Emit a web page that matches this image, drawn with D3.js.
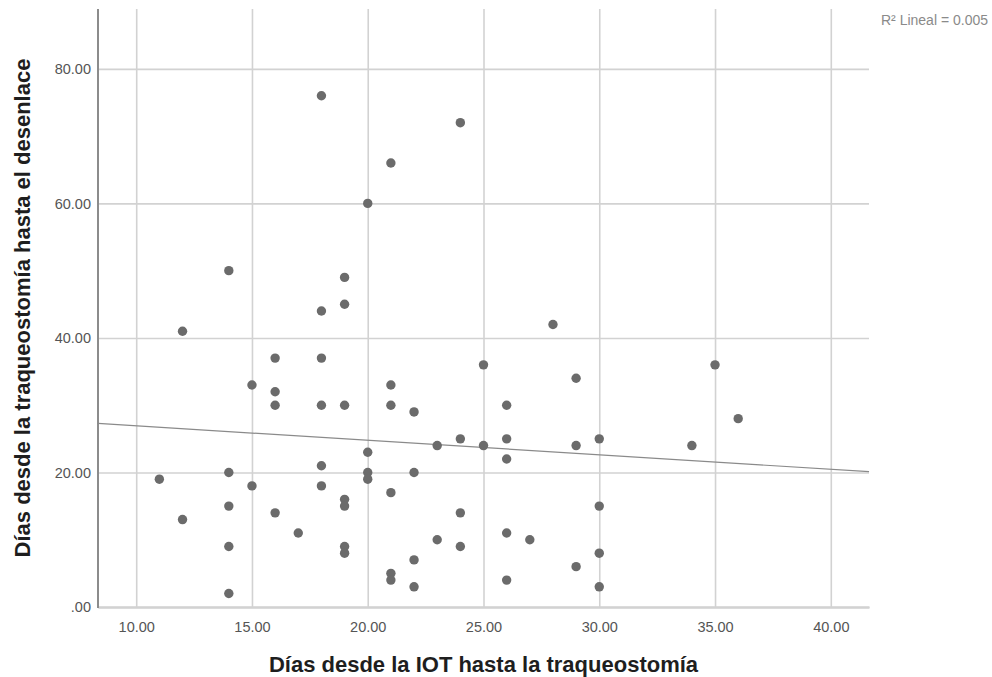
<!DOCTYPE html>
<html>
<head>
<meta charset="utf-8">
<script src="https://cdn.jsdelivr.net/npm/d3@7"></script>
<style>
  body { margin: 0; background: #fff; }
  svg { font-family: "Liberation Sans", Arial, sans-serif; }
</style>
</head>
<body>
<svg class="chart" width="992" height="677"></svg>
<script>
// days from IOT to tracheostomy (x) and tracheostomy to outcome (y)
var diasIOT = [11, 12, 12, 14, 14, 14, 14, 14, 15, 15, 16, 16, 16, 16, 17,
    18, 18, 18, 18, 18, 18, 19, 19, 19, 19, 19, 19, 19, 20, 20, 20, 20,
    21, 21, 21, 21, 21, 21, 22, 22, 22, 22, 23, 23, 24, 24, 24, 24, 25, 25,
    26, 26, 26, 26, 26, 27, 28, 29, 29, 29, 30, 30, 30, 30, 34, 35, 36];
var diasDesenlace = [19, 41, 13, 50, 20, 15, 9, 2, 33, 18, 37, 32, 30, 14, 11,
    76, 44, 37, 30, 21, 18, 49, 45, 30, 16, 15, 9, 8, 60, 23, 20, 19,
    66, 33, 30, 17, 5, 4, 29, 20, 7, 3, 24, 10, 72, 25, 14, 9, 36, 24,
    30, 25, 22, 11, 4, 10, 42, 34, 24, 6, 25, 15, 8, 3, 24, 36, 28];
var xTicks = [10, 15, 20, 25, 30, 35, 40];
var yTicks = [0, 20, 40, 60, 80];

function drawChart() {
    var svg = d3.select(".chart"),
        pLeft = 98, pRight = 869, pTop = 9, pBottom = 607;

    var x = d3.scaleLinear().domain([8.35, 41.65]).range([pLeft, pRight]);
    var y = d3.scaleLinear().domain([0, 88.9]).range([pBottom, pTop]);

    var fmt = function (d) { return d === 0 ? ".00" : d3.format(".2f")(d); };

    // grid + ticks
    svg.append("g")
        .attr("transform", "translate(0," + pBottom + ")")
        .call(d3.axisBottom(x).tickValues(xTicks).tickSizeInner(-(pBottom - pTop))
            .tickSizeOuter(0).tickFormat(fmt))
        .call(g => g.select(".domain").attr("stroke", "#bdbdbd").attr("stroke-width", 2))
        .call(g => g.selectAll(".tick line").attr("stroke", "#d2d2d2").attr("stroke-width", 1.6))
        .call(g => g.selectAll(".tick text").attr("dy", "1.55em").attr("fill", "#555")
            .style("font-size", "14.5px"));

    svg.append("g")
        .attr("transform", "translate(" + pLeft + ",0)")
        .call(d3.axisLeft(y).tickValues(yTicks).tickSize(-(pRight - pLeft)).tickFormat(fmt))
        .call(g => g.select(".domain").remove())
        .call(g => g.selectAll(".tick line").attr("stroke", "#d2d2d2").attr("stroke-width", 1.6))
        .call(g => g.selectAll(".tick text").attr("x", -7).attr("fill", "#555")
            .style("font-size", "14.5px"));

    // left axis line
    svg.append("line")
        .attr("x1", pLeft).attr("x2", pLeft)
        .attr("y1", pTop).attr("y2", pBottom + 1)
        .attr("stroke", "#8c8c8c").attr("stroke-width", 2);

    // least squares fit
    var mx = d3.mean(diasIOT), my = d3.mean(diasDesenlace);
    var sxy = d3.sum(diasIOT, (d, i) => (d - mx) * (diasDesenlace[i] - my));
    var sxx = d3.sum(diasIOT, d => (d - mx) * (d - mx));
    var slope = sxy / sxx, icpt = my - slope * mx;
    var xd = x.domain();

    svg.append("line")
        .attr("x1", x(xd[0])).attr("y1", y(icpt + slope * xd[0]))
        .attr("x2", x(xd[1])).attr("y2", y(icpt + slope * xd[1]))
        .attr("stroke", "#8a8a8a").attr("stroke-width", 1.2);

    svg.append("g")
        .selectAll("circle")
        .data(diasIOT)
        .enter()
        .append("circle")
        .attr("cx", d => x(d))
        .attr("cy", (d, i) => y(diasDesenlace[i]))
        .attr("r", 4.7)
        .attr("fill", "#6b6b6b");

    // titles
    svg.append("text")
        .attr("x", (pLeft + pRight) / 2).attr("y", 672)
        .attr("text-anchor", "middle")
        .style("font-size", "22px").style("font-weight", "bold").attr("fill", "#1e1e1e")
        .text("Días desde la IOT hasta la traqueostomía");

    svg.append("text")
        .attr("transform", "translate(30," + (pTop + pBottom) / 2 + ") rotate(-90)")
        .attr("text-anchor", "middle")
        .style("font-size", "22px").style("font-weight", "bold").attr("fill", "#1e1e1e")
        .text("Días desde la traqueostomía hasta el desenlace");

    svg.append("text")
        .attr("x", 988).attr("y", 25)
        .attr("text-anchor", "end")
        .style("font-size", "14px").attr("fill", "#8a8a8a")
        .text("R² Lineal = 0.005");
}

drawChart();
</script>
</body>
</html>
